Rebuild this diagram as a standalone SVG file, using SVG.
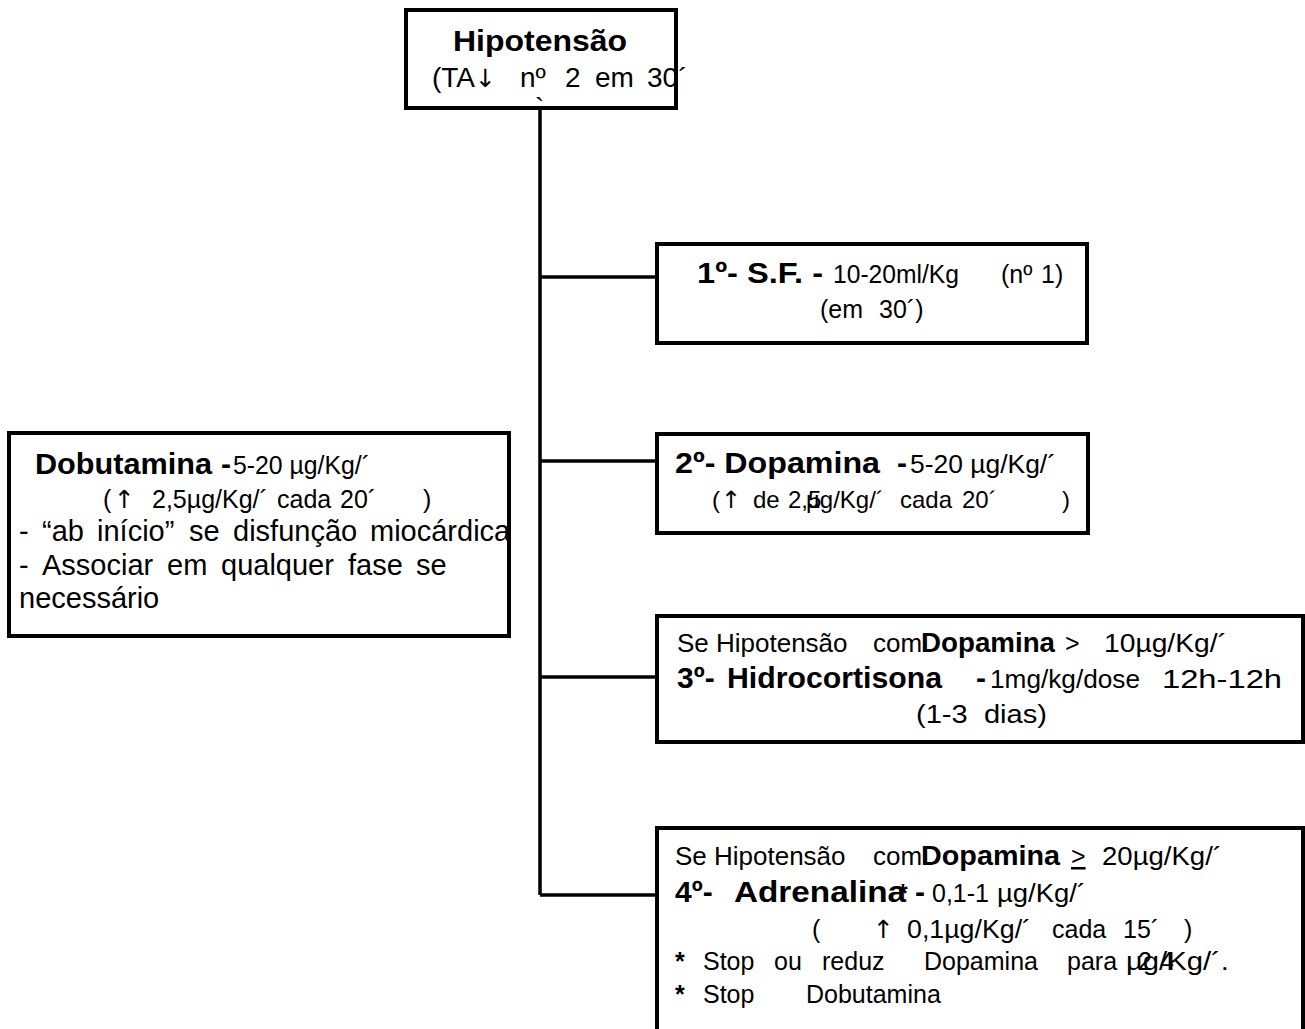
<svg xmlns="http://www.w3.org/2000/svg" width="1305" height="1029" viewBox="0 0 1305 1029">
<style>
.box{fill:#fff;stroke:#000;stroke-width:4}
.ln{fill:none;stroke:#000;stroke-width:3.5}
text{font-family:"Liberation Sans",Arial,sans-serif;fill:#000;white-space:pre}
.b{font-weight:bold}
.ar{font-family:"DejaVu Sans",sans-serif}
.s25{font-size:25px}
.s26{font-size:26px}
.s24{font-size:24px}
.s30{font-size:30px}
.s29{font-size:29px}
.s27{font-size:27px}
</style>
<rect width="1305" height="1029" fill="#fff"/>
<g id="connectors">
<path class="ln" d="M540,108 V895"/>
<path class="ln" d="M540,277 H657"/>
<path class="ln" d="M540,461 H657"/>
<path class="ln" d="M540,677 H657"/>
<path class="ln" d="M540,895 H657"/>
</g>
<g id="hipotensao">
<rect class="box" x="406" y="10" width="270" height="98"/>
<text class="b s30" x="453" y="51" textLength="174" lengthAdjust="spacingAndGlyphs">Hipotensão</text>
<text style="font-size:28px" y="87"><tspan x="432">(TA</tspan><tspan class="ar" x="475" style="font-size:25px">↓</tspan><tspan x="520">nº</tspan><tspan x="565">2</tspan><tspan x="595">em</tspan><tspan x="647">30´</tspan></text>
<text style="font-size:28px" x="535" y="117">`</text>
</g>
<g id="sf">
<rect class="box" x="657" y="244" width="430" height="99"/>
<text class="b s30" x="697" y="283" textLength="126" lengthAdjust="spacingAndGlyphs">1º- S.F. -</text>
<text class="s25" x="833" y="283" textLength="126" lengthAdjust="spacingAndGlyphs">10-20ml/Kg</text>
<text class="s25" y="283"><tspan x="1001">(nº</tspan><tspan x="1041">1)</tspan></text>
<text class="s25" y="318"><tspan x="820">(em</tspan><tspan x="879">30´)</tspan></text>
</g>
<g id="dopamina">
<rect class="box" x="657" y="434" width="431" height="99"/>
<text class="b s30" x="675" y="473" textLength="205" lengthAdjust="spacingAndGlyphs">2º- Dopamina</text>
<text class="b s30" x="897" y="473">-</text>
<text class="s25" x="910" y="473" textLength="146" lengthAdjust="spacingAndGlyphs">5-20 µg/Kg/´</text>
<text class="s24" y="508"><tspan x="712">(</tspan><tspan class="ar" x="721">↑</tspan><tspan x="753">de</tspan><tspan x="788">2,5</tspan><tspan x="806">µg/Kg/´</tspan><tspan x="900">cada</tspan><tspan x="962">20´</tspan><tspan x="1062">)</tspan></text>
</g>
<g id="dobutamina">
<rect class="box" x="9" y="433" width="500" height="203"/>
<text class="b s30" x="35" y="474" textLength="177" lengthAdjust="spacingAndGlyphs">Dobutamina</text>
<text class="b s30" x="221" y="474">-</text>
<text class="s25" x="233" y="474" textLength="137" lengthAdjust="spacingAndGlyphs">5-20 µg/Kg/´</text>
<text class="s25" y="508"><tspan x="103">(</tspan><tspan class="ar" x="114">↑</tspan><tspan x="152">2,5µg/Kg/´</tspan><tspan x="277">cada</tspan><tspan x="340">20´</tspan><tspan x="423">)</tspan></text>
<text class="s29" y="541"><tspan x="19">-</tspan><tspan x="42">“ab</tspan><tspan x="97">início”</tspan><tspan x="189">se</tspan><tspan x="233">disfunção</tspan><tspan x="370">miocárdica</tspan></text>
<text class="s29" y="575"><tspan x="19">-</tspan><tspan x="42">Associar</tspan><tspan x="167">em</tspan><tspan x="221">qualquer</tspan><tspan x="348">fase</tspan><tspan x="416">se</tspan></text>
<text class="s29" x="19" y="608">necessário</text>
</g>
<g id="hidrocortisona">
<rect class="box" x="657" y="616" width="646" height="126"/>
<text class="s26" y="652"><tspan x="677">Se</tspan><tspan x="716">Hipotensão</tspan><tspan x="873">com</tspan></text>
<text class="b s27" x="921" y="652" textLength="134" lengthAdjust="spacingAndGlyphs">Dopamina</text>
<text class="s25" x="1065" y="652">&gt;</text>
<text class="s25" x="1104" y="652" textLength="123" lengthAdjust="spacingAndGlyphs">10µg/Kg/´</text>
<text class="b s30" x="677" y="688">3º-</text>
<text class="b s30" x="727" y="688" textLength="215" lengthAdjust="spacingAndGlyphs">Hidrocortisona</text>
<text class="b s30" x="976" y="688">-</text>
<text class="s25" x="990" y="688" textLength="150" lengthAdjust="spacingAndGlyphs">1mg/kg/dose</text>
<text class="s25" x="1162" y="688" textLength="120" lengthAdjust="spacingAndGlyphs">12h-12h</text>
<text class="s25" x="916" y="723" textLength="131" lengthAdjust="spacingAndGlyphs">(1-3  dias)</text>
</g>
<g id="adrenalina">
<rect class="box" x="657" y="828" width="646" height="230"/>
<text class="s26" y="865"><tspan x="675">Se</tspan><tspan x="714">Hipotensão</tspan><tspan x="873">com</tspan></text>
<text class="b s27" x="921" y="865" textLength="139" lengthAdjust="spacingAndGlyphs">Dopamina</text>
<text class="s25" x="1071" y="865" text-decoration="underline">&gt;</text>
<text class="s25" x="1102" y="865" textLength="120" lengthAdjust="spacingAndGlyphs">20µg/Kg/´</text>
<text class="b s30" x="675" y="902">4º-</text>
<text class="b s30" x="734" y="902" textLength="172" lengthAdjust="spacingAndGlyphs">Adrenalina</text>
<text class="b s25" x="898" y="902">*</text>
<text class="b s30" x="915" y="902">-</text>
<text class="s25" x="932" y="902" textLength="57" lengthAdjust="spacingAndGlyphs">0,1-1</text>
<text class="s25" x="997" y="902" textLength="89" lengthAdjust="spacingAndGlyphs">µg/Kg/´</text>
<text class="s25" y="938"><tspan x="812">(</tspan><tspan class="ar" x="873">↑</tspan></text>
<text class="s25" x="907" y="938" textLength="124" lengthAdjust="spacingAndGlyphs">0,1µg/Kg/´</text>
<text class="s25" y="938"><tspan x="1052">cada</tspan><tspan x="1123">15´</tspan><tspan x="1184">)</tspan></text>
<text class="b s25" x="675" y="970">*</text>
<text class="s25" y="970"><tspan x="703">Stop</tspan><tspan x="774">ou</tspan><tspan x="822">reduz</tspan><tspan x="924">Dopamina</tspan><tspan x="1067">para</tspan></text>
<text class="s25" x="1126" y="970" textLength="103" lengthAdjust="spacingAndGlyphs">µg/Kg/´.</text>
<text class="s25" y="970"><tspan x="1138">2</tspan><tspan x="1160">4</tspan></text>
<text class="b s25" x="675" y="1003">*</text>
<text class="s25" y="1003"><tspan x="703">Stop</tspan><tspan x="806">Dobutamina</tspan></text>
</g>
</svg>
